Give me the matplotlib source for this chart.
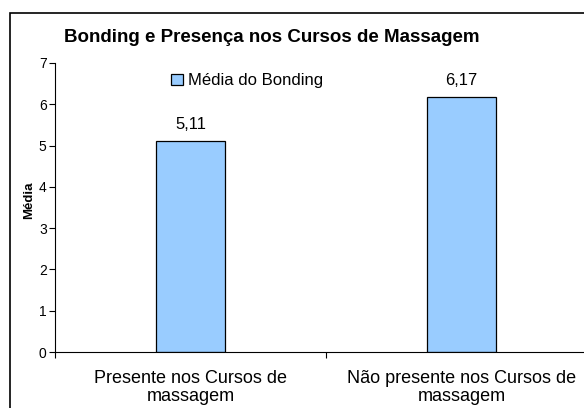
import matplotlib.pyplot as plt
from matplotlib.patches import Rectangle

plt.rcParams['font.family'] = ['Liberation Sans', 'DejaVu Sans']

# Data
categories = ['Presente nos Cursos de\nmassagem', 'Não presente nos Cursos de\nmassagem']
values = [5.11, 6.17]
value_labels = ['5,11', '6,17']

fig = plt.figure(figsize=(5.84, 4.08), dpi=100)

# outer chart border (cut off on right and bottom like the original)
border = Rectangle((10 / 584, -0.2), 1.2, 1 - 13 / 408 + 0.2, transform=fig.transFigure,
                   fill=False, edgecolor='black', linewidth=1.2, clip_on=False)
fig.patches.append(border)

ax = fig.add_axes([55 / 584, 1 - 352 / 408, 542 / 584, 289 / 408])

x = range(len(values))
bars = ax.bar(x, values, width=0.255, color='#99CCFF', edgecolor='black', linewidth=0.9,
              label='Média do Bonding')

for xi, v, lab in zip(x, values, value_labels):
    ax.text(xi, v + 0.29, lab, ha='center', va='baseline', fontsize=12)

ax.set_xlim(-0.5, 1.5)
ax.set_ylim(0, 7)
ax.set_yticks(range(0, 8))
ax.tick_params(axis='y', labelsize=10, length=4, width=0.8, direction='out', pad=2)

ax.set_xticks(list(x))
ax.set_xticklabels(categories, fontsize=13, linespacing=1.05)
ax.tick_params(axis='x', which='major', length=0, pad=13)
ax.set_xticks([-0.5, 0.5, 1.5], minor=True)
ax.tick_params(axis='x', which='minor', length=4, width=0.8, direction='out')

for s in ['top', 'right']:
    ax.spines[s].set_visible(False)
ax.spines['left'].set_linewidth(0.8)
ax.spines['bottom'].set_linewidth(0.8)

ax.set_ylabel('Média', fontsize=9.5, fontweight='bold')
ax.yaxis.set_label_coords(-0.036, 0.526)

fig.text(272 / 584, 1 - 37 / 408, 'Bonding e Presença nos Cursos de Massagem',
         ha='center', va='center', fontsize=13.5, fontweight='bold')

ax.legend(loc='center', bbox_to_anchor=(0.354, 0.938), frameon=False, fontsize=12,
          handlelength=0.7, handleheight=0.7, handletextpad=0.3)

fig.savefig('out.png', dpi=100)
